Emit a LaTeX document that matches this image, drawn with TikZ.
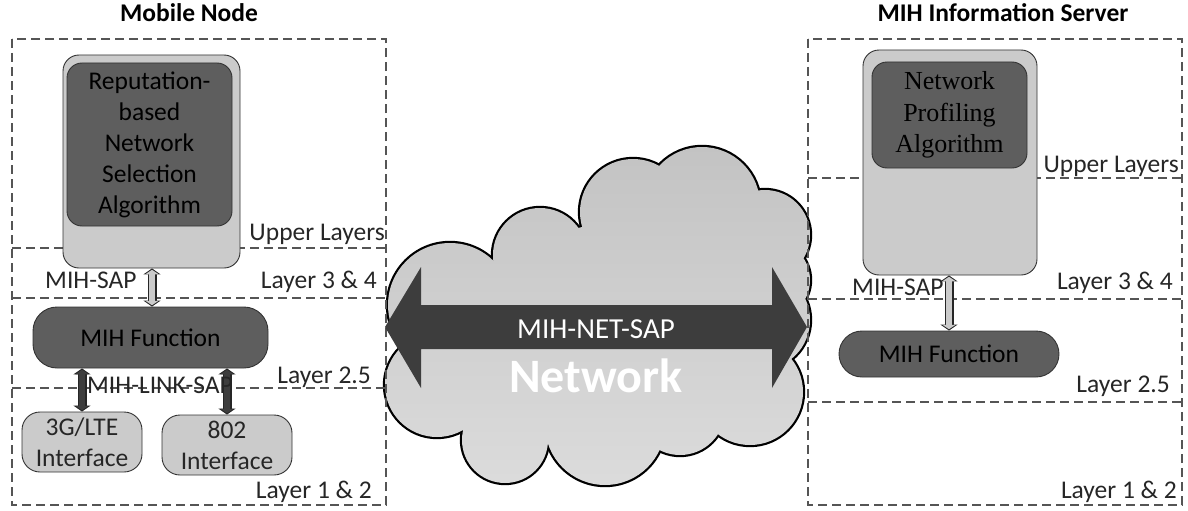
\documentclass[tikz,border=0pt]{standalone}
\usepackage{fontspec}
\setmainfont{Carlito}
\newfontfamily\algserif{Liberation Serif}
\usetikzlibrary{arrows.meta}
\definecolor{boxlight}{HTML}{CBCBCB}
\definecolor{boxdark}{HTML}{5E5E5E}
\definecolor{dashc}{HTML}{555555}
\definecolor{arrowdark}{HTML}{3D3D3D}
\definecolor{txtdark}{HTML}{262626}
\definecolor{cloudtop}{HTML}{C2C2C2}
\definecolor{cloudbot}{HTML}{DCDCDC}
\tikzset{
  layerline/.style={draw=dashc, line width=1.3pt, dash pattern=on 9pt off 5pt},
  txt/.style={font=\fontsize{25.5}{31}\selectfont, text=txtdark},
  lbl/.style={txt, inner sep=0pt},
  titletxt/.style={font=\fontsize{25.5}{31}\selectfont\bfseries, text=black, inner sep=0pt, anchor=base},
  outerbox/.style={draw=black!80, line width=0.9pt, fill=boxlight, rounded corners=16pt, inner sep=0pt},
  innerbox/.style={txt, text=black, draw=black!80, line width=0.9pt, fill=boxdark, rounded corners=15pt, inner sep=0pt, align=center},
  funcbox/.style={txt, text=black, draw=black!80, line width=0.9pt, fill=boxdark, inner sep=0pt},
  ifbox/.style={txt, draw=black!80, line width=0.9pt, fill=boxlight, rounded corners=18pt, inner sep=0pt, align=center},
  sapo/.style={line width=9pt, draw=black!85, arrows={Triangle[width=17pt,length=6pt]-Triangle[width=17pt,length=6pt]}},
  sapi/.style={line width=6.5pt, draw=#1, shorten <=1.3pt, shorten >=1.3pt, arrows={Triangle[width=13pt,length=4.5pt]-Triangle[width=13pt,length=4.5pt]}},
}
\newcommand\cloudpuffs{450/305/62,540/255/47,633/212/53,702/205/58,765/235/45,770/280/40,760/320/50,750/392/53,680/410/45,605/425/60,505/440/43,437/385/52,700/285/65,500/330/70,600/305/80,600/370/90,690/360/50,500/390/50}
\begin{document}
\begin{tikzpicture}[x=1pt,y=-1pt]
\useasboundingbox (0,0) rectangle (1188,511);
% ---------- cloud ----------
\foreach \cx/\cy/\r in \cloudpuffs
  \fill[black] (\cx,\cy) circle[radius=\r+2.2];
\begin{scope}
  \clip \foreach \cx/\cy/\r in \cloudpuffs {(\cx,\cy) circle[radius=\r]};
  \shade[top color=cloudtop, bottom color=cloudbot] (370,130) rectangle (820,495);
\end{scope}
% ---------- panels ----------
\draw[layerline] (12,39) rectangle (386,505);
\draw[layerline] (12,248) -- (386,248);
\draw[layerline] (12,298) -- (386,298);
\draw[layerline] (12,388) -- (386,388);
\draw[layerline] (808,39) rectangle (1182,505);
\draw[layerline] (808,178) -- (1182,178);
\draw[layerline] (808,299) -- (1182,299);
\draw[layerline] (808,402) -- (1182,402);
% ---------- titles ----------
\node[titletxt] (tmn) at (189,22) {Mobile Node};
\node[titletxt] (tis) at (1003,22) {MIH Information Server};
% ---------- mobile node ----------
\node[outerbox, minimum width=177pt, minimum height=213pt] (rep) at (151.5,161.5) {};
\node[innerbox, minimum width=165pt, minimum height=163pt] (repin) at (149.5,144.5) {Reputation-\\based\\Network\\Selection\\Algorithm};
\node[funcbox, rounded corners=24pt, minimum width=235pt, minimum height=61pt] (mihf) at (150.5,337.5) {MIH Function};
\node[ifbox, minimum width=120pt, minimum height=60pt] (g3) at (82,442) {3G/LTE\\Interface};
\node[ifbox, minimum width=130pt, minimum height=60pt] (w802) at (227,445) {802\\Interface};
\draw[sapo] (rep.south -| 152,0) -- (mihf.north -| 152,0);
\draw[sapi=boxlight] (rep.south -| 152,0) -- (mihf.north -| 152,0);
\draw[sapo] (mihf.south -| g3.north) -- (g3.north);
\draw[sapi=arrowdark] (mihf.south -| g3.north) -- (g3.north);
\draw[sapo] (mihf.south -| w802.north) -- (w802.north);
\draw[sapi=arrowdark] (mihf.south -| w802.north) -- (w802.north);
\node[lbl, anchor=base west] (msap) at (45,288) {MIH-SAP};
\node[lbl, anchor=base] (mlsap) at (160,393) {MIH-LINK-SAP};
\node[lbl, anchor=base east] (lu) at (385,240) {Upper Layers};
\node[lbl, anchor=base east] (l34) at (377,288) {Layer 3 \& 4};
\node[lbl, anchor=base east] (l25) at (371,383) {Layer 2.5};
\node[lbl, anchor=base east] (l12) at (372,498) {Layer 1 \& 2};
% ---------- information server ----------
\node[outerbox, minimum width=174pt, minimum height=225pt] (nps) at (950,162.5) {};
\node[innerbox, font=\fontsize{26}{31.5}\selectfont\algserif, minimum width=155pt, minimum height=106pt] (npsin) at (949.5,115) {Network\\Profiling\\Algorithm};
\node[funcbox, rounded corners=23pt, minimum width=220pt, minimum height=46pt] (mihfr) at (949,354) {MIH Function};
\draw[sapo] (nps.south -| 949,0) -- (mihfr.north -| 949,0);
\draw[sapi=boxlight] (nps.south -| 949,0) -- (mihfr.north -| 949,0);
\node[lbl, anchor=base west] (msapr) at (852,295) {MIH-SAP};
\node[lbl, anchor=base east] (lur) at (1179,172) {Upper Layers};
\node[lbl, anchor=base east] (l34r) at (1173,289) {Layer 3 \& 4};
\node[lbl, anchor=base east] (l25r) at (1170,392) {Layer 2.5};
\node[lbl, anchor=base east] (l12r) at (1177,498) {Layer 1 \& 2};
% ---------- network arrow ----------
\fill[arrowdark] (385,327) -- (421,267) -- (421,305) -- (772,305) -- (772,267) -- (807,327) -- (772,388) -- (772,349) -- (421,349) -- (421,388) -- cycle;
\node[font=\fontsize{29}{34}\selectfont, text=white, inner sep=0pt, anchor=base] (netsap) at (596,338) {MIH-NET-SAP};
\node[font=\fontsize{48}{56}\selectfont\bfseries, text=white, inner sep=0pt, anchor=base] (netw) at (596,392) {Network};
\end{tikzpicture}
\end{document}
